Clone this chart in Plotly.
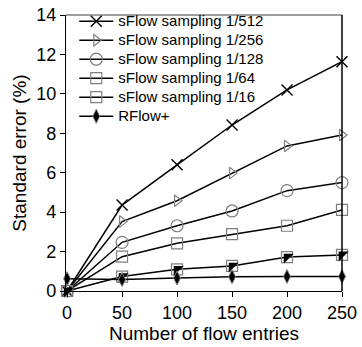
import plotly.graph_objects as go

x_entries = [0, 50, 100, 150, 200, 250]
s512 = [0, 4.36, 6.4, 8.42, 10.2, 11.63]
s256 = [0, 3.52, 4.58, 5.98, 7.36, 7.91]
s128 = [0, 2.47, 3.31, 4.06, 5.09, 5.5]
s64 = [0, 1.74, 2.42, 2.88, 3.31, 4.11]
s16 = [0, 0.73, 1.1, 1.27, 1.72, 1.83]
rflow = [0.62, 0.58, 0.66, 0.72, 0.74, 0.74]
names = ["sFlow sampling 1/512", "sFlow sampling 1/256", "sFlow sampling 1/128",
         "sFlow sampling 1/64", "sFlow sampling 1/16", "RFlow+"]
x_ticks = [0, 50, 100, 150, 200, 250]
y_ticks = [0, 2, 4, 6, 8, 10, 12, 14]

GRAY = "#7f7f7f"
fig = go.Figure()

def lab(t):
    return '<span style="font-size:15px">' + t + '</span>'

def add(y, name, symbol, size, mcolor, lcolor, fill=None, lw=1.2, show=True):
    fig.add_trace(go.Scatter(
        x=x_entries, y=y, name=lab(name), mode="lines+markers", showlegend=show,
        line=dict(color="black", width=1.5),
        marker=dict(symbol=symbol, size=size, color=fill or mcolor,
                    line=dict(color=lcolor, width=lw)),
        cliponaxis=False))

add(s512, names[0], "x-thin-open", 11, "black", "black", lw=1.4)
add(s256, names[1], "triangle-right-open", 10, GRAY, GRAY)
add(s128, names[2], "circle-open", 12, GRAY, GRAY)
add(s64, names[3], "square-open", 11, GRAY, GRAY)
add(s16, names[4], "square-open", 11, GRAY, GRAY)
fig.add_trace(go.Scatter(
    x=x_entries, y=s16, mode="markers", showlegend=False,
    marker=dict(symbol="triangle-nw", size=11, color="black", line=dict(width=0)),
    cliponaxis=False))
add(rflow, names[5], "diamond-tall", 10, "black", GRAY, fill="black", lw=1)

axis_common = dict(showline=True, linecolor="black", linewidth=1.2, ticks="outside",
                   ticklen=5, tickcolor="black", showgrid=False, zeroline=False,
                   tickfont=dict(family="Liberation Sans, Arial", size=18, color="black"))
fig.update_layout(
    width=362, height=347,
    margin=dict(l=66, r=20, t=15, b=56, autoexpand=False),
    paper_bgcolor="white", plot_bgcolor="white",
    font=dict(family="Liberation Sans, Arial", color="black"),
    xaxis=dict(range=[-1, 250], tickvals=x_ticks, automargin=False,
               title=dict(text="Number of flow entries", font=dict(size=19), standoff=4),
               **axis_common),
    yaxis=dict(range=[0, 14], tickvals=y_ticks, automargin=False,
               title=dict(text="Standard error (%)", font=dict(size=19), standoff=4),
               **axis_common),
    legend=dict(x=0.03, y=1.03, xanchor="left", yanchor="top", itemwidth=34,
                bgcolor="rgba(0,0,0,0)", font=dict(size=11), tracegroupgap=0),
    shapes=[
        dict(type="line", xref="paper", yref="paper", x0=0, x1=1, y0=1, y1=1,
             line=dict(color=GRAY, width=1.5)),
        dict(type="line", xref="paper", yref="paper", x0=1, x1=1, y0=0, y1=1,
             line=dict(color="black", width=1.5)),
    ],
)
fig.write_html("out.html")
